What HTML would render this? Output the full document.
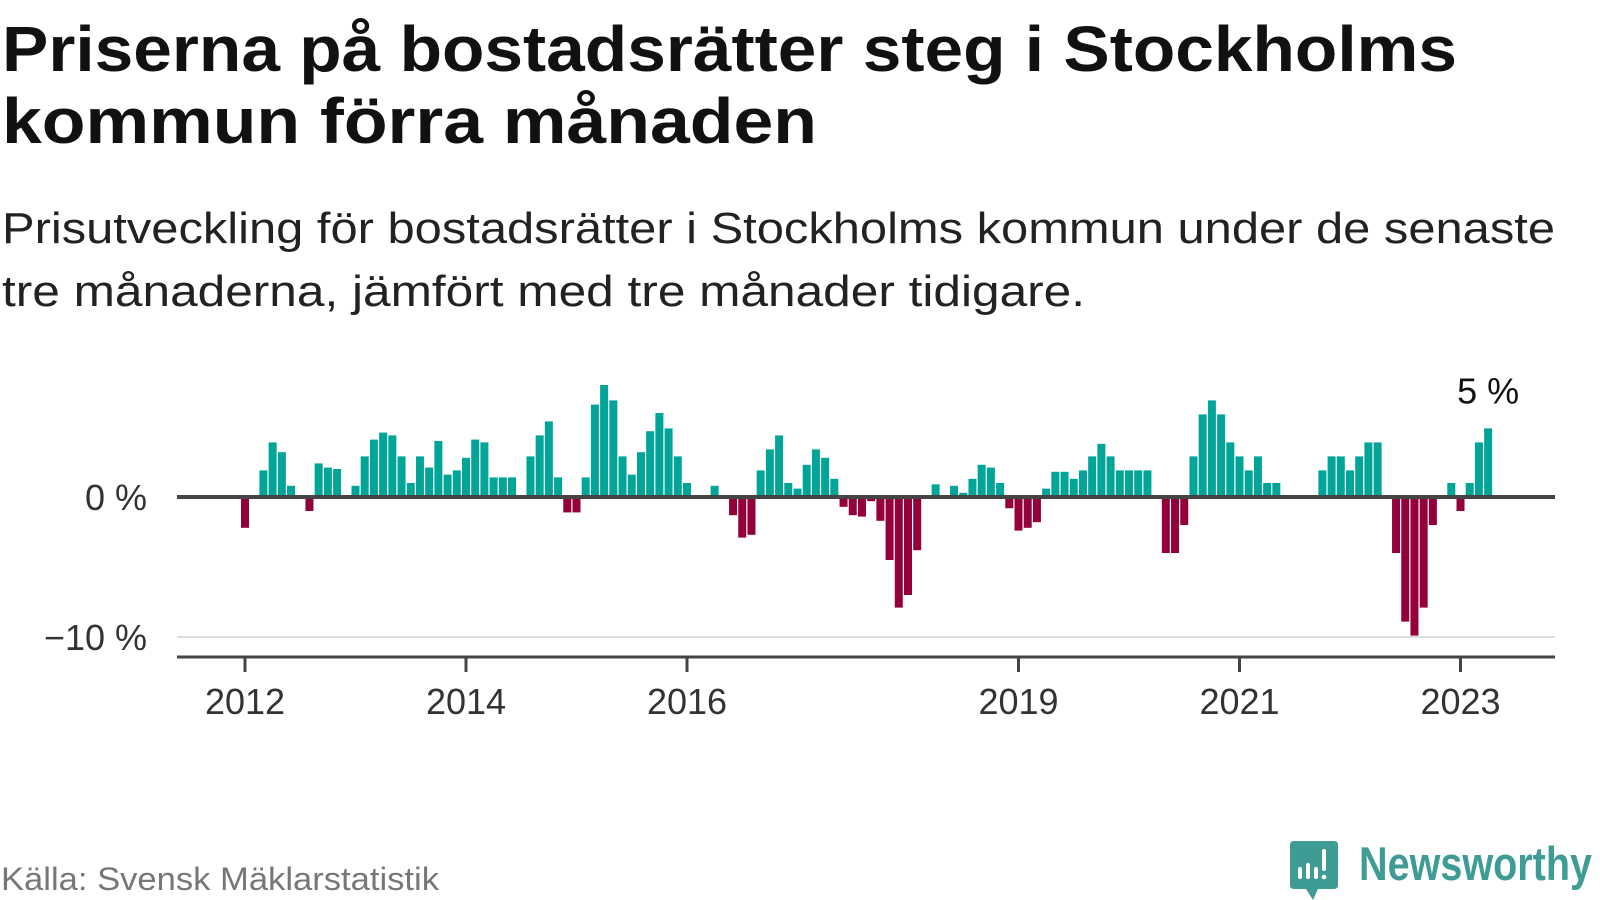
<!DOCTYPE html>
<html><head><meta charset="utf-8"><style>
html,body{margin:0;padding:0;background:#fff;width:1600px;height:900px;overflow:hidden}
svg{display:block}
text{font-family:"Liberation Sans",sans-serif}
</style></head><body>
<svg id="chart" width="1600" height="900" viewBox="0 0 1600 900" xmlns="http://www.w3.org/2000/svg">
<text x="2" y="71" font-size="64" font-weight="bold" fill="#111" textLength="1455" lengthAdjust="spacingAndGlyphs">Priserna på bostadsrätter steg i Stockholms</text>
<text x="2" y="143" font-size="64" font-weight="bold" fill="#111" textLength="815" lengthAdjust="spacingAndGlyphs">kommun förra månaden</text>
<text x="2" y="243" font-size="44" fill="#222" textLength="1553" lengthAdjust="spacingAndGlyphs">Prisutveckling för bostadsrätter i Stockholms kommun under de senaste</text>
<text x="2" y="306" font-size="44" fill="#222" textLength="1083" lengthAdjust="spacingAndGlyphs">tre månaderna, jämfört med tre månader tidigare.</text>
<g id="plot"></g>
<text x="1" y="890" font-size="32" fill="#777" textLength="438" lengthAdjust="spacingAndGlyphs">Källa: Svensk Mäklarstatistik</text>
<g>
<path d="M1294 841 H1334 Q1338 841 1338 845 V885 Q1338 889 1334 889 H1318 L1313 900 L1306 889 H1294 Q1290 889 1290 885 V845 Q1290 841 1294 841 Z" fill="#3f9c94"/>
<rect x="1298" y="867" width="4" height="12" rx="2" fill="#fff"/>
<rect x="1306" y="863" width="4" height="16" rx="2" fill="#fff"/>
<rect x="1314" y="867" width="4" height="12" rx="2" fill="#fff"/>
<rect x="1322" y="849" width="4" height="22" rx="2" fill="#fff"/>
<circle cx="1324" cy="877" r="2.3" fill="#fff"/>
<text x="1359" y="880" font-size="47" font-weight="bold" fill="#3f9c94" textLength="233" lengthAdjust="spacingAndGlyphs">Newsworthy</text>
</g>
</svg>
<script>
const startYear = 2012;
const values = [-2.2,0,1.9,3.9,3.2,0.8,0,-1.0,2.4,2.1,2.0,0,
0.8,2.9,4.1,4.6,4.4,2.9,1.0,2.9,2.1,4.0,1.6,1.9,
2.8,4.1,3.9,1.4,1.4,1.4,0,2.9,4.4,5.4,1.4,-1.1,
-1.1,1.4,6.6,8.0,6.9,2.9,1.6,3.2,4.7,6.0,4.9,2.9,
1.0,0,0,0.8,0,-1.3,-2.9,-2.7,1.9,3.4,4.4,1.0,
0.6,2.3,3.4,2.8,1.3,-0.7,-1.3,-1.4,-0.3,-1.7,-4.5,-7.9,
-7.0,-3.8,0,0.9,0,0.8,0.3,1.3,2.3,2.1,1.0,-0.8,
-2.4,-2.2,-1.8,0.6,1.8,1.8,1.3,1.9,2.9,3.8,2.9,1.9,
1.9,1.9,1.9,0,-4.0,-4.0,-2.0,2.9,5.9,6.9,5.9,3.9,
2.9,1.9,2.9,1.0,1.0,0,0,0,0,1.9,2.9,2.9,
1.9,2.9,3.9,3.9,0,-4.0,-8.9,-9.9,-7.9,-2.0,0,1.0,
-1.0,1.0,3.9,4.9];
const yTicks = [0,-10];
const yTickLabels = ["0 %","\u221210 %"];
const xTickYears = [2012,2014,2016,2019,2021,2023];
const lastLabel = "5 %";

const NS="http://www.w3.org/2000/svg";
const g=document.getElementById('plot');
const x0=245, monthW=110.5/12, zeroY=497, pxPer=14;
const xs=m=>x0+m*monthW;
const ys=v=>zeroY-v*pxPer;
function mk(tag,attrs){const e=document.createElementNS(NS,tag);for(const k in attrs)e.setAttribute(k,attrs[k]);g.appendChild(e);return e;}
// gridline at -10
yTicks.forEach((t,i)=>{
  if(t!==0){const l=mk('line',{x1:177,x2:1555,y1:ys(t),y2:ys(t),stroke:'#dddddd','stroke-width':2});
  
  }
  const tx=mk('text',{x:147,y:ys(t)+13,'font-size':36,fill:'#333','text-anchor':'end'});
  tx.textContent=yTickLabels[i];
  
  
});
values.forEach((v,i)=>{
  if(v===0)return;
  const r=mk('rect',{x:xs(i)-4,width:8,y:v>0?ys(v):zeroY,height:Math.abs(v)*pxPer,fill:v>0?'#00a598':'#940039'});
  
  
});
const zl=mk('line',{x1:177,x2:1555,y1:zeroY,y2:zeroY,stroke:'#444','stroke-width':4});


const ax=mk('line',{x1:177,x2:1555,y1:657,y2:657,stroke:'#444','stroke-width':3});


xTickYears.forEach(yr=>{
  const x=xs((yr-startYear)*12);
  const t=mk('line',{x1:x,x2:x,y1:657,y2:672,stroke:'#444','stroke-width':3});
  
  
  const tx=mk('text',{x:x,y:714,'font-size':36,fill:'#333','text-anchor':'middle'});
  tx.textContent=String(yr);
  
  
});
const li=values.length-1;
const lb=mk('text',{x:xs(li),y:ys(values[li])-25,'font-size':36,fill:'#111','text-anchor':'middle'});
lb.textContent=lastLabel;


</script>
</body></html>
